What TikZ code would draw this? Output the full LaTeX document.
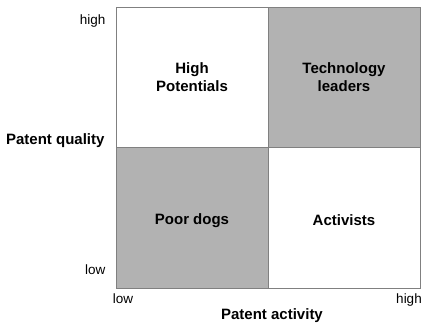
\documentclass[tikz,border=0pt]{standalone}
\usepackage{fontspec}
\setmainfont{Liberation Sans}
\begin{document}
\begin{tikzpicture}[x=1pt,y=-1pt,
  cell/.style={draw=black!50,line width=0.8pt},
  dark/.style={cell,fill=black!30},
  light/.style={cell,fill=white},
  celltext/.style={font=\fontsize{15}{18}\selectfont\bfseries,align=center},
  axtitle/.style={font=\fontsize{15}{18}\selectfont\bfseries},
  ticklab/.style={font=\fontsize{13.5}{16}\selectfont}]
  \useasboundingbox (0,0) rectangle (422,324);
  % quadrants
  \draw[light] (116,7) rectangle (268,147);
  \draw[dark] (268,7) rectangle (420,147);
  \draw[dark] (116,147) rectangle (268,288);
  \draw[light] (268,147) rectangle (420,288);
  % quadrant labels
  \node[celltext] (hp) at (192,77) {High\\Potentials};
  \node[celltext] (tl) at (344,77) {Technology\\leaders};
  \node[celltext] (pd) at (192,221) {Poor dogs};
  \node[celltext] (ac) at (344,220) {Activists};
  % axis labels
  \node[ticklab,anchor=east] (yh) at (109,21) {high};
  \node[ticklab,anchor=east] (yl) at (109,270) {low};
  \node[axtitle,anchor=east] (yt) at (108,141) {Patent quality};
  \node[ticklab] (xl) at (123,299) {low};
  \node[ticklab] (xh) at (409,300) {high};
  \node[axtitle] (xt) at (272,316) {Patent activity};
\end{tikzpicture}
\end{document}
